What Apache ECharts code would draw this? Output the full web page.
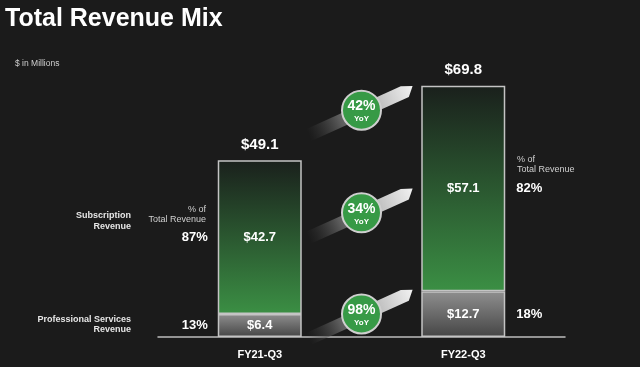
<!DOCTYPE html>
<html><head><meta charset="utf-8">
<script src="https://cdn.jsdelivr.net/npm/echarts@6/dist/echarts.min.js"></script>
<style>html,body{margin:0;padding:0;background:#1b1b1b;}#c{width:640px;height:367px;}</style>
</head><body><div id="c"></div>
<script>
const categories = ['FY21-Q3', 'FY22-Q3'];
const proServices = [6.4, 12.7];
const subscription = [42.7, 57.1];
const totals = [49.1, 69.8];
const subPct = ['87%', '82%'];
const proPct = ['13%', '18%'];
const yoyLabels = ['42%', '34%', '98%'];
const yoyY = [63, 34.5, 6.4];

const FF = 'Liberation Sans, Arial, sans-serif';
const BG = '#1b1b1b';
const chart = echarts.init(document.getElementById('c'));

const lg = (a, b) => new echarts.graphic.LinearGradient(0, 0, 0, 1, [{offset: 0, color: a}, {offset: 1, color: b}]);

const pctLeft = [[0, subscription[0] / 2 + proServices[0], subPct[0]], [0, proServices[0] / 2, proPct[0]]];
const pctRight = [[1, subscription[1] / 2 + proServices[1], subPct[1]], [1, proServices[1] / 2, proPct[1]]];

const pctLabel = (pos) => ({
  show: true, position: pos, distance: pos === 'left' ? 52 : 53, opacity: 1,
  formatter: p => p.data[2], color: '#ffffff', fontFamily: FF, fontWeight: 'bold', fontSize: 13
});

const small = (text, x, y, align, bold) => ({
  type: 'text', x: x, y: y,
  style: {text: text, fill: bold ? '#e6e6e6' : '#cfcfcf', font: (bold ? 'bold ' : '') + '9px ' + FF, align: align, verticalAlign: 'middle'}
});

const hidden = {symbolSize: 0, itemStyle: {color: BG, opacity: 1}, emphasis: {disabled: true}, silent: true};

chart.setOption({
  backgroundColor: BG,
  animation: false,
  grid: {left: 158, right: 75, top: 67, bottom: 30},
  xAxis: [
    {type: 'category', data: categories,
     axisLine: {lineStyle: {color: '#bdbdbd', width: 1.5}}, axisTick: {show: false},
     axisLabel: {color: '#fff', fontFamily: FF, fontWeight: 'bold', fontSize: 11, margin: 12}},
    {type: 'value', min: 0, max: 2, show: false}
  ],
  yAxis: {type: 'value', min: 0, max: 75, show: false},
  graphic: [
    {type: 'text', x: 5, y: 19, style: {text: 'Total Revenue Mix', fill: '#fff', font: 'bold 25px ' + FF, verticalAlign: 'middle'}},
    {type: 'text', x: 15, y: 64, style: {text: '$ in Millions', fill: '#cfcfcf', font: '8.5px ' + FF, verticalAlign: 'middle'}},
    small('Subscription', 131, 216, 'right', true),
    small('Revenue', 131, 227, 'right', true),
    small('Professional Services', 131, 320, 'right', true),
    small('Revenue', 131, 330, 'right', true),
    small('% of', 206, 210, 'right', false),
    small('Total Revenue', 206, 220, 'right', false),
    small('% of', 517, 160, 'left', false),
    small('Total Revenue', 517, 170, 'left', false)
  ],
  series: [
    {name: 'Professional Services Revenue', type: 'bar', stack: 'rev', barWidth: 84, data: proServices,
     itemStyle: {color: lg('#8f8f8f', '#454545'), borderColor: '#c4c4c4', borderWidth: 1.5},
     label: {show: true, position: 'inside', formatter: p => '$' + p.value.toFixed(1), color: '#fff', fontFamily: FF, fontWeight: 'bold', fontSize: 13}},
    {name: 'Subscription Revenue', type: 'bar', stack: 'rev', barWidth: 84, data: subscription,
     itemStyle: {color: lg('#1a201c', '#3b8f44'), borderColor: '#c4c4c4', borderWidth: 1.5},
     label: {show: true, position: 'inside', formatter: p => '$' + p.value.toFixed(1), color: '#fff', fontFamily: FF, fontWeight: 'bold', fontSize: 13}},
    Object.assign({name: 'Total', type: 'scatter', data: totals,
     label: {show: true, position: 'top', distance: 8, opacity: 1, formatter: p => '$' + p.value.toFixed(1), color: '#ffffff', fontFamily: FF, fontWeight: 'bold', fontSize: 15}}, hidden),
    Object.assign({name: 'pctL', type: 'scatter', data: pctLeft, label: pctLabel('left')}, hidden),
    Object.assign({name: 'pctR', type: 'scatter', data: pctRight, label: pctLabel('right')}, hidden),
    {name: 'YoY', type: 'custom', xAxisIndex: 1, data: yoyY.map((y, i) => [1, y, yoyLabels[i]]),
     renderItem: (params, api) => {
       const p = api.coord([api.value(0), api.value(1)]);
       const lbl = yoyLabels[params.dataIndex];
       const ang = Math.atan2(47, 104);
       return {type: 'group', children: [
         {type: 'polygon', x: p[0], y: p[1] + 1, rotation: ang,
          shape: {points: [[-58, -6.5], [46, -6.5], [57, -2], [49, 6.5], [-58, 6.5]]},
          style: {fill: new echarts.graphic.LinearGradient(0, 0, 1, 0, [
            {offset: 0, color: 'rgba(60,60,60,0)'},
            {offset: 0.3, color: 'rgba(95,95,95,0.95)'},
            {offset: 0.5, color: '#8a8a8a'},
            {offset: 0.65, color: '#bdbdbd'},
            {offset: 1, color: '#f2f2f2'}])}},
         {type: 'circle', shape: {cx: p[0], cy: p[1], r: 19.5}, style: {fill: '#379a46', stroke: '#cfcfcf', lineWidth: 2}},
         {type: 'text', x: p[0], y: p[1] - 4, style: {text: lbl, fill: '#fff', font: 'bold 14px ' + FF, align: 'center', verticalAlign: 'middle'}},
         {type: 'text', x: p[0], y: p[1] + 9, style: {text: 'YoY', fill: '#fff', font: 'bold 8px ' + FF, align: 'center', verticalAlign: 'middle'}}
       ]};
     }}
  ]
});
</script></body></html>
